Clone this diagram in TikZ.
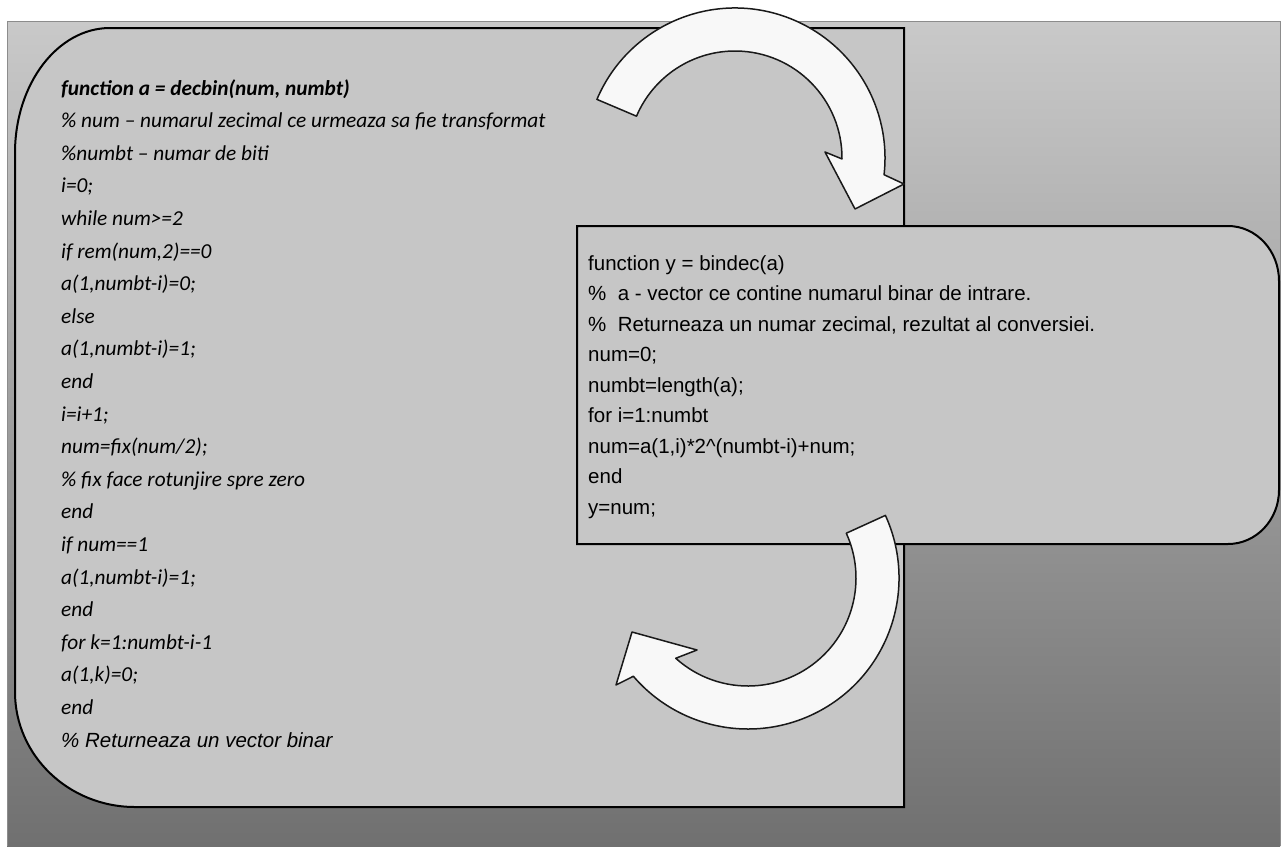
\documentclass[tikz,border=0pt]{standalone}
\usepackage{fontspec}
\setmainfont{Carlito}
\newfontfamily\calif{Carlito}
\newfontfamily\arialf{Liberation Sans}
\definecolor{boxgray}{HTML}{C6C6C6}
\definecolor{bgtop}{HTML}{C9C9C9}
\definecolor{bgbot}{HTML}{707070}
\definecolor{arrowwhite}{HTML}{F8F8F8}
\definecolor{bgline}{HTML}{8C8C8C}
\begin{document}
\begin{tikzpicture}[x=1pt,y=-1pt,
  boxst/.style={fill=boxgray, draw=black, line width=2pt},
  arrowst/.style={fill=arrowwhite, draw=black!90, line width=1.5pt, line join=round},
  ltext/.style={anchor=base west, inner sep=0pt, font=\calif\itshape\fontsize{21.3}{25}\selectfont},
  lbold/.style={ltext, font=\calif\bfseries\itshape\fontsize{21.3}{25}\selectfont},
  laria/.style={anchor=base west, inner sep=0pt, font=\arialf\itshape\fontsize{20.5}{24}\selectfont},
  rtext/.style={anchor=base west, inner sep=0pt, font=\arialf\fontsize{20.5}{24}\selectfont}]

\useasboundingbox (0,0) rectangle (1284,846);
% background panel
\shade[top color=bgtop, bottom color=bgbot] (7,21) rectangle (1280,846);
\draw[draw=bgline, line width=1pt] (7,846) -- (7,21) -- (1280,21) -- (1280,846);

% left box (decbin)
\draw[boxst] (904,28) -- (110,28) arc[start angle=270, end angle=180, x radius=95, y radius=125]
  -- (15,692) arc[start angle=180, end angle=90, x radius=120, y radius=115] -- (904,807) -- cycle;

% right box (bindec)
\draw[boxst] (577,226) -- (1228,226) arc[start angle=270, end angle=360, x radius=51, y radius=55]
  -- (1279,490) arc[start angle=0, end angle=90, x radius=51, y radius=54] -- (577,544) -- cycle;

% top curved arrow
\draw[arrowst] ([shift={(735,158)}]203:150) arc[start angle=203, end angle=366.4, radius=150]
  -- (904,184) -- (855,209) -- (825,152) -- ([shift={(735,158)}]360.5:107)
  arc[start angle=360.5, end angle=203, radius=107] -- cycle;

% bottom curved arrow
\draw[arrowst] ([shift={(748,578)}]-24.5:151) arc[start angle=-24.5, end angle=139.4, radius=151]
  -- (616,685) -- (632,632) -- (697,650) -- ([shift={(748,578)}]132:108)
  arc[start angle=132, end angle=-24.5, radius=108] -- cycle;

% left text
\node[lbold] (l1) at (61,95.0) {function a = decbin(num, numbt)};
\node[ltext] (l2) at (61,127.6) {\% num – numarul zecimal ce urmeaza sa fie transformat};
\node[ltext] (l3) at (61,160.2) {\%numbt – numar de biti};
\node[ltext] (l4) at (61,192.8) {i=0;};
\node[ltext] (l5) at (61,225.4) {while num>=2};
\node[ltext] (l6) at (61,258.0) {if rem(num,2)==0};
\node[ltext] (l7) at (61,290.6) {a(1,numbt-i)=0;};
\node[ltext] (l8) at (61,323.2) {else};
\node[ltext] (l9) at (61,355.8) {a(1,numbt-i)=1;};
\node[ltext] (l10) at (61,388.4) {end};
\node[ltext] (l11) at (61,421.0) {i=i+1;};
\node[ltext] (l12) at (61,453.6) {num=fix(num/2);};
\node[ltext] (l13) at (61,486.2) {\% fix face rotunjire spre zero};
\node[ltext] (l14) at (61,518.8) {end};
\node[ltext] (l15) at (61,551.4) {if num==1};
\node[ltext] (l16) at (61,584.0) {a(1,numbt-i)=1;};
\node[ltext] (l17) at (61,616.6) {end};
\node[ltext] (l18) at (61,649.2) {for k=1:numbt-i-1};
\node[ltext] (l19) at (61,681.8) {a(1,k)=0;};
\node[ltext] (l20) at (61,714.4) {end};
\node[laria] (l21) at (61,747.0) {\% Returneaza un vector binar};

% right text
\node[rtext] (r1) at (588,270.0) {function y = bindec(a)};
\node[rtext] (r2) at (588,300.5) {\%\ \ a - vector ce contine numarul binar de intrare.};
\node[rtext] (r3) at (588,331.0) {\%\ \ Returneaza un numar zecimal, rezultat al conversiei.};
\node[rtext] (r4) at (588,361.5) {num=0;};
\node[rtext] (r5) at (588,392.0) {numbt=length(a);};
\node[rtext] (r6) at (588,422.5) {for i=1:numbt};
\node[rtext] (r7) at (588,453.0) {num=a(1,i)*2\textasciicircum(numbt-i)+num;};
\node[rtext] (r8) at (588,483.5) {end};
\node[rtext] (r9) at (588,514.0) {y=num;};
\end{tikzpicture}
\end{document}
